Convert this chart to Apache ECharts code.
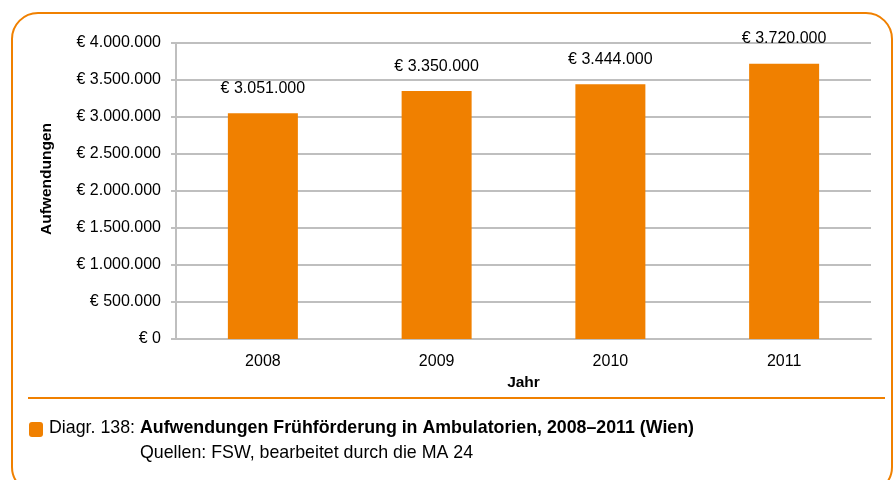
<!DOCTYPE html>
<html>
<head>
<meta charset="utf-8">
<script src="https://cdn.jsdelivr.net/npm/echarts@6/dist/echarts.min.js"></script>
<style>
  html, body { margin: 0; padding: 0; background: #fff; }
  #chart { width: 893px; height: 480px; }
</style>
</head>
<body>
<div id="chart"></div>
<script>
const years = ["2008", "2009", "2010", "2011"];
const spending = [3051000, 3350000, 3444000, 3720000];
const yTicks = { min: 0, max: 4000000, interval: 500000 };

const orange = "#F08000";
const font = "'Liberation Sans', Arial, sans-serif";

function euro(v) {
  return "€ " + String(v).replace(/\B(?=(\d{3})+(?!\d))/g, ".");
}

const chart = echarts.init(document.getElementById("chart"));

chart.setOption({
  animation: false,
  textStyle: { fontFamily: font, color: "#000" },
  grid: { left: 176, right: 22, top: 43, bottom: 141 },
  xAxis: {
    type: "category",
    data: years,
    name: "Jahr",
    nameLocation: "middle",
    nameGap: 32,
    nameTextStyle: { fontSize: 15.5, fontWeight: "bold", color: "#000", fontFamily: font },
    axisLine: { lineStyle: { color: "#bfbfbf", width: 2 } },
    axisTick: { show: false },
    axisLabel: { fontSize: 16, color: "#000", margin: 15, fontFamily: font }
  },
  yAxis: {
    type: "value",
    min: yTicks.min,
    max: yTicks.max,
    interval: yTicks.interval,
    axisLine: { show: true, lineStyle: { color: "#bfbfbf", width: 2 } },
    axisTick: { show: true, length: 5, lineStyle: { color: "#bfbfbf", width: 2 } },
    axisLabel: { fontSize: 16, color: "#000", margin: 15, fontFamily: font, formatter: euro },
    splitLine: { lineStyle: { color: "#bfbfbf", width: 2 } }
  },
  series: [{
    type: "bar",
    data: spending,
    barWidth: 70,
    itemStyle: { color: orange },
    label: {
      show: true,
      position: "top",
      distance: 17,
      fontSize: 16,
      color: "#000",
      fontFamily: font,
      formatter: p => euro(p.value)
    }
  }],
  graphic: [
    {
      type: "rect",
      shape: { x: 12, y: 13, width: 880, height: 480, r: 26 },
      style: { fill: "none", stroke: orange, lineWidth: 2 },
      silent: true
    },
    {
      type: "text",
      x: 47,
      y: 179,
      rotation: Math.PI / 2,
      style: {
        text: "Aufwendungen",
        fontSize: 15.5,
        fontWeight: "bold",
        fontFamily: font,
        fill: "#000",
        align: "center",
        verticalAlign: "middle"
      }
    },
    {
      type: "line",
      shape: { x1: 28, y1: 398, x2: 885, y2: 398 },
      style: { stroke: orange, lineWidth: 2 }
    },
    {
      type: "rect",
      shape: { x: 29, y: 422, width: 14, height: 15, r: 3 },
      style: { fill: orange }
    },
    {
      type: "text",
      left: 49,
      top: 419,
      style: {
        text: "{a|Diagr. 138: }{b|Aufwendungen Frühförderung in Ambulatorien, 2008–2011 (Wien)}",
        rich: {
          a: { fontSize: 17.8, fontFamily: font, fill: "#000" },
          b: { fontSize: 17.8, fontFamily: font, fontWeight: "bold", fill: "#000" }
        }
      }
    },
    {
      type: "text",
      left: 140,
      top: 444,
      style: {
        text: "Quellen: FSW, bearbeitet durch die MA 24",
        fontSize: 17.8,
        fontFamily: font,
        fill: "#000"
      }
    }
  ]
});
</script>
</body>
</html>
